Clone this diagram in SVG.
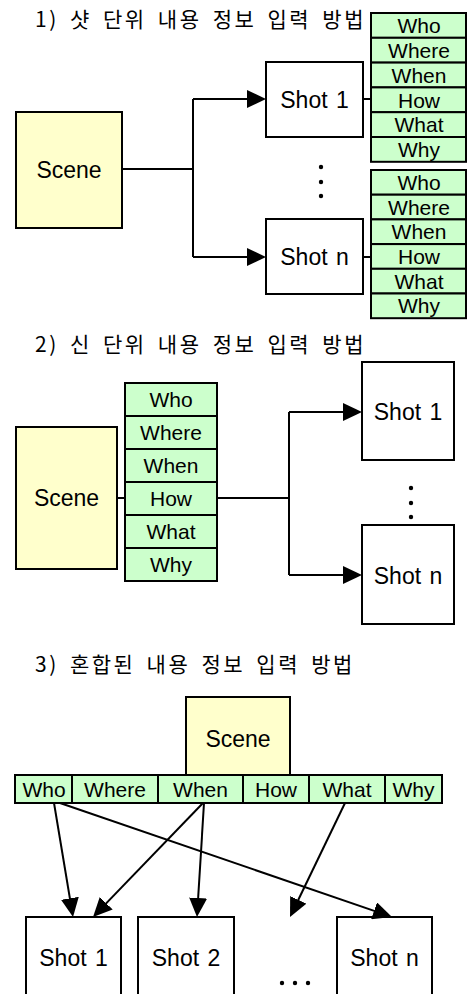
<svg xmlns="http://www.w3.org/2000/svg" width="467" height="994" viewBox="0 0 467 994">
<style>
.bg{fill:#ffffff}
.box{fill:#ffffff;stroke:#000;stroke-width:2}
.scene{fill:#ffffcc;stroke:#000;stroke-width:2}
.cell{fill:#ccffcc;stroke:#000;stroke-width:2}
.ln{fill:none;stroke:#000;stroke-width:2}
.t{font-family:"Liberation Sans",Arial,sans-serif;font-size:21px;fill:#000;text-anchor:middle}
.big{font-size:23px;word-spacing:2px}
.ttl{font-family:"Noto Sans CJK KR","Noto Sans",sans-serif;font-size:21px;fill:#000;letter-spacing:2.5px;word-spacing:4px}
.dot{fill:#000}
</style>
<defs>
<marker id="ah" markerUnits="userSpaceOnUse" markerWidth="19" markerHeight="18" viewBox="0 0 19 18" refX="14" refY="9" orient="auto">
<path d="M0,0 L19,9 L0,18 z" fill="#000"/>
</marker>
</defs>
<rect class="bg" x="0" y="0" width="467" height="994"/>

<!-- Section 1 -->
<text class="ttl" x="35" y="27">1) 샷 단위 내용 정보 입력 방법</text>
<g id="s1-scene">
<rect class="scene" x="16" y="112" width="106" height="116"/>
<text class="t big" x="69" y="178">Scene</text>
</g>
<g id="s1-shot1">
<rect class="box" x="266" y="62" width="97" height="75"/>
<text class="t big" x="314.5" y="108">Shot 1</text>
</g>
<g id="s1-shotn">
<rect class="box" x="266" y="219" width="97" height="75"/>
<text class="t big" x="314.5" y="265">Shot n</text>
</g>
<g id="s1-attr1">
<rect class="cell" x="371" y="13" width="95" height="24.8"/>
<rect class="cell" x="371" y="37.8" width="95" height="24.8"/>
<rect class="cell" x="371" y="62.6" width="95" height="24.8"/>
<rect class="cell" x="371" y="87.4" width="95" height="24.8"/>
<rect class="cell" x="371" y="112.2" width="95" height="24.8"/>
<rect class="cell" x="371" y="137" width="95" height="24.8"/>
<text class="t" x="419" y="33">Who</text>
<text class="t" x="419" y="58">Where</text>
<text class="t" x="419" y="82.5">When</text>
<text class="t" x="419" y="107.5">How</text>
<text class="t" x="419" y="132">What</text>
<text class="t" x="419" y="157">Why</text>
</g>
<g id="s1-attrn">
<rect class="cell" x="371" y="170" width="95" height="24.7"/>
<rect class="cell" x="371" y="194.7" width="95" height="24.7"/>
<rect class="cell" x="371" y="219.4" width="95" height="24.7"/>
<rect class="cell" x="371" y="244.1" width="95" height="24.7"/>
<rect class="cell" x="371" y="268.8" width="95" height="24.7"/>
<rect class="cell" x="371" y="293.5" width="95" height="24.7"/>
<text class="t" x="419" y="190">Who</text>
<text class="t" x="419" y="214.5">Where</text>
<text class="t" x="419" y="239">When</text>
<text class="t" x="419" y="264">How</text>
<text class="t" x="419" y="288.5">What</text>
<text class="t" x="419" y="313">Why</text>
</g>
<g id="s1-dots">
<circle class="dot" cx="321" cy="167" r="2.2"/>
<circle class="dot" cx="321" cy="182" r="2.2"/>
<circle class="dot" cx="321" cy="196" r="2.2"/>
</g>

<!-- Section 2 -->
<text class="ttl" x="35" y="352">2) 신 단위 내용 정보 입력 방법</text>
<g id="s2-scene">
<rect class="scene" x="16" y="427" width="101" height="142"/>
<text class="t big" x="66.5" y="506">Scene</text>
</g>
<g id="s2-attr">
<rect class="cell" x="125" y="383" width="92" height="33"/>
<rect class="cell" x="125" y="416" width="92" height="33"/>
<rect class="cell" x="125" y="449" width="92" height="33"/>
<rect class="cell" x="125" y="482" width="92" height="33"/>
<rect class="cell" x="125" y="515" width="92" height="33"/>
<rect class="cell" x="125" y="548" width="92" height="33"/>
<text class="t" x="171" y="407">Who</text>
<text class="t" x="171" y="440">Where</text>
<text class="t" x="171" y="473">When</text>
<text class="t" x="171" y="506">How</text>
<text class="t" x="171" y="539">What</text>
<text class="t" x="171" y="572">Why</text>
</g>
<g id="s2-shot1">
<rect class="box" x="362" y="362" width="92" height="98"/>
<text class="t big" x="408" y="420">Shot 1</text>
</g>
<g id="s2-shotn">
<rect class="box" x="362" y="525" width="92" height="99"/>
<text class="t big" x="408" y="584">Shot n</text>
</g>
<g id="s2-dots">
<circle class="dot" cx="411" cy="488" r="2.2"/>
<circle class="dot" cx="411" cy="503" r="2.2"/>
<circle class="dot" cx="411" cy="517" r="2.2"/>
</g>

<!-- Section 3 -->
<text class="ttl" x="35" y="672">3) 혼합된 내용 정보 입력 방법</text>
<g id="s3-scene">
<rect class="scene" x="186" y="697" width="104" height="78"/>
<text class="t big" x="238" y="747">Scene</text>
</g>
<g id="s3-attr">
<rect class="cell" x="15" y="775" width="57" height="28"/>
<rect class="cell" x="72" y="775" width="86" height="28"/>
<rect class="cell" x="158" y="775" width="85" height="28"/>
<rect class="cell" x="243" y="775" width="66" height="28"/>
<rect class="cell" x="309" y="775" width="76" height="28"/>
<rect class="cell" x="385" y="775" width="57" height="28"/>
<text class="t" x="44" y="797">Who</text>
<text class="t" x="115" y="797">Where</text>
<text class="t" x="200.5" y="797">When</text>
<text class="t" x="276" y="797">How</text>
<text class="t" x="347" y="797">What</text>
<text class="t" x="413.5" y="797">Why</text>
</g>
<g id="s3-shot1">
<rect class="box" x="26" y="917" width="95" height="90"/>
<text class="t big" x="73.5" y="966">Shot 1</text>
</g>
<g id="s3-shot2">
<rect class="box" x="138" y="917" width="96" height="90"/>
<text class="t big" x="186" y="966">Shot 2</text>
</g>
<g id="s3-shotn">
<rect class="box" x="337" y="917" width="95" height="90"/>
<text class="t big" x="384.5" y="966">Shot n</text>
</g>
<g id="s3-dots">
<circle class="dot" cx="282" cy="983" r="2.2"/>
<circle class="dot" cx="295" cy="983" r="2.2"/>
<circle class="dot" cx="308" cy="983" r="2.2"/>
</g>

<!-- Connectors -->
<g id="connectors">
<path class="ln" d="M122,169 H193"/>
<path class="ln" d="M193,99 V257"/>
<path class="ln" d="M193,99 H261" marker-end="url(#ah)"/>
<path class="ln" d="M193,257 H261" marker-end="url(#ah)"/>
<path class="ln" d="M363,99 H371"/>
<path class="ln" d="M363,257 H371"/>

<path class="ln" d="M117,498 H125"/>
<path class="ln" d="M217,498 H289"/>
<path class="ln" d="M289,412 V575"/>
<path class="ln" d="M289,412 H357" marker-end="url(#ah)"/>
<path class="ln" d="M289,575 H357" marker-end="url(#ah)"/>

<path class="ln" d="M54,803 L72.2,912.1" marker-end="url(#ah)"/>
<path class="ln" d="M60,803 L387.3,915.4" marker-end="url(#ah)"/>
<path class="ln" d="M203,803 L96.5,913.4" marker-end="url(#ah)"/>
<path class="ln" d="M204,803 L197.3,912" marker-end="url(#ah)"/>
<path class="ln" d="M345,803 L292.2,912.5" marker-end="url(#ah)"/>
</g>
</svg>
